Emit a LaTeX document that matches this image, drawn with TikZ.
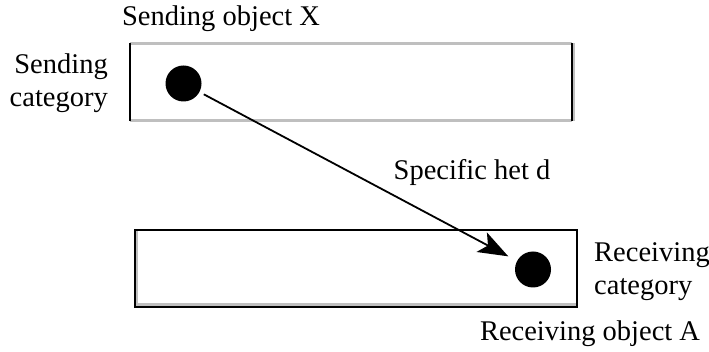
\documentclass[tikz,border=0pt]{standalone}
\usepackage{fontspec}
\setmainfont{Liberation Serif}
\usetikzlibrary{arrows.meta}
\begin{document}
\begin{tikzpicture}[x=1pt,y=-1pt,
  lbl/.style={font=\fontsize{28.5}{33}\selectfont, inner sep=0pt},
  dot/.style={circle, fill=black, minimum size=36pt, inner sep=0pt, outer sep=0pt},
  conn/.style={-{Stealth[length=30pt,width=22pt,inset=7pt]}, line width=1.8pt}]
\useasboundingbox (0,0) rectangle (709,352);
% top rectangle (sending category)
\node (top) [minimum width=441pt, minimum height=77pt, inner sep=0pt] at (351,82) {};
\draw[gray!50, line width=3.5pt] (top.north west) -- (top.north east);
\draw[gray!50, line width=3.5pt] (top.south west) -- (top.south east);
\draw[gray!50, line width=3pt] ([xshift=2pt]top.north east) -- ([xshift=2pt]top.south east);
\draw[black, line width=1.8pt] (top.north west) -- (top.south west);
\draw[black, line width=1.8pt] (top.north east) -- (top.south east);
% bottom rectangle (receiving category)
\node (bot) [minimum width=442pt, minimum height=77pt, inner sep=0pt] at (356,268.5) {};
\draw[gray!50, line width=3pt] ([yshift=3pt]bot.south west) -- ([yshift=3pt]bot.south east);
\draw[gray!50, line width=2pt] ([xshift=2.5pt]bot.north west) -- ([xshift=2.5pt]bot.south west);
\draw[black, line width=1.8pt] (bot.north west) rectangle (bot.south east);
% dots
\node (d1) [dot] at (183.5,83.5) {};
\node (d2) [dot] at (533,269.5) {};
% connector
\draw[conn, shorten <=5pt, shorten >=10pt] (d1) -- (d2);
% labels
\node (lsx) [lbl] at (221,19) {Sending object X};
\node (lsc) [lbl, align=right, anchor=east] at (108,83) {Sending\\category};
\node (lhet) [lbl] at (472,173) {Specific het d};
\node (lrc) [lbl, align=left, anchor=west] at (594,272) {Receiving\\category};
\node (lra) [lbl] at (590,334) {Receiving object A};
\end{tikzpicture}
\end{document}
